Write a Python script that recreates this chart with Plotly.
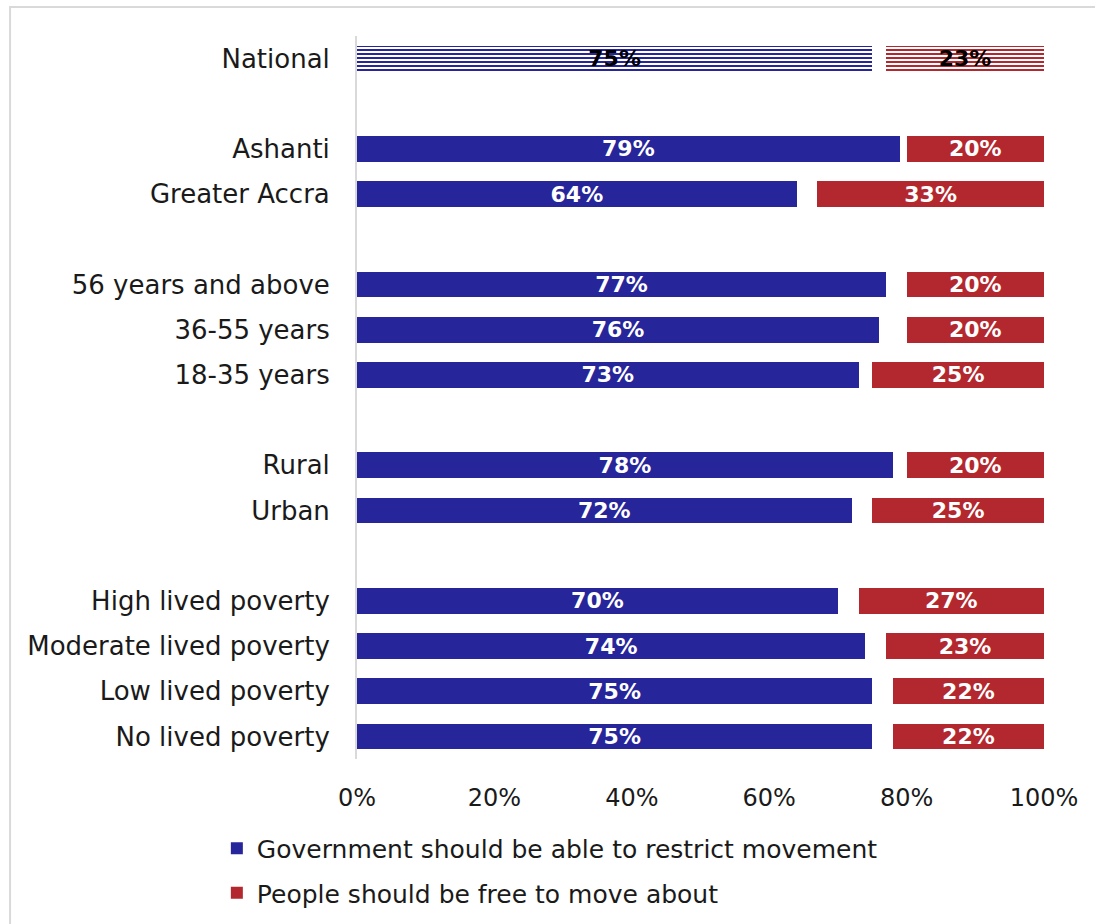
import plotly.graph_objects as go

# Survey groups, top to bottom; blank entries leave gaps between blocks
groups = ["National", "", "Ashanti", "Greater Accra", "",
          "56 years and above", "36-55 years", "18-35 years", "",
          "Rural", "Urban", "",
          "High lived poverty", "Moderate lived poverty",
          "Low lived poverty", "No lived poverty"]

restrict = [75, None, 79, 64, None, 77, 76, 73, None, 78, 72, None, 70, 74, 75, 75]
dont_know = [2, None, 1, 3, None, 3, 4, 2, None, 2, 3, None, 3, 3, 3, 3]
free_move = [23, None, 20, 33, None, 20, 20, 25, None, 20, 25, None, 27, 23, 22, 22]

series_names = ["Government should be able to restrict movement",
                "People should be free to move about"]

x_ticks = [0, 20, 40, 60, 80, 100]
x_tick_labels = ["0%", "20%", "40%", "60%", "80%", "100%"]

BLUE = "#27259A"
RED = "#B3282E"
FONT = "DejaVu Sans"

slots = list(range(len(groups)))
is_national = [g == "National" for g in groups]


def labels(vals):
    return [f"{v}%" if v is not None else "" for v in vals]


def label_colors():
    return ["black" if n else "white" for n in is_national]


def pattern_shapes():
    return ["-" if n else "" for n in is_national]


def data_bar(vals, color, name):
    return go.Bar(
        y=slots, x=vals, orientation="h", name=name, showlegend=False,
        marker=dict(color=color, line=dict(width=0),
                    pattern=dict(shape=pattern_shapes(), fgcolor=color,
                                 bgcolor="white", size=4, solidity=0.5,
                                 fgopacity=1, fillmode="replace")),
        text=labels(vals), textposition="inside", insidetextanchor="middle",
        textangle=0, constraintext="none",
        textfont=dict(family=FONT, size=22, color=label_colors(), weight="bold"),
        width=0.57, hoverinfo="skip",
    )


fig = go.Figure()
fig.add_trace(data_bar(restrict, BLUE, series_names[0]))
fig.add_trace(go.Bar(
    y=slots, x=dont_know, orientation="h", name="Don't know",
    marker=dict(color="rgba(0,0,0,0)", line=dict(width=0)),
    showlegend=False, width=0.57, hoverinfo="skip",
))
fig.add_trace(data_bar(free_move, RED, series_names[1]))

# Solid swatches for the legend
for name, color in zip(series_names, [BLUE, RED]):
    fig.add_trace(go.Bar(
        y=[None], x=[None], orientation="h", name=name, legendgroup=name,
        marker=dict(color=color, line=dict(width=0)), showlegend=True,
    ))

fig.update_layout(
    width=1095, height=924,
    margin=dict(l=357, r=51, t=36, b=165, autoexpand=False),
    barmode="stack",
    plot_bgcolor="white", paper_bgcolor="white",
    font=dict(family=FONT, size=25, color="#1a1a1a"),
    showlegend=True,
    legend=dict(orientation="v", x=-0.204, xanchor="left",
                y=-0.092, yanchor="top", traceorder="grouped",
                font=dict(family=FONT, size=25, color="#1a1a1a"),
                tracegroupgap=9, itemwidth=30, bgcolor="rgba(0,0,0,0)"),
    xaxis=dict(range=[0, 100], tickvals=x_ticks, ticktext=x_tick_labels,
               showgrid=False, zeroline=False, showline=False,
               ticks="", ticklabelstandoff=22, automargin=False,
               tickfont=dict(family=FONT, size=24, color="#1a1a1a"),
               fixedrange=True),
    yaxis=dict(range=[len(groups) - 0.5, -0.5], tickvals=slots, ticktext=groups,
               showgrid=False, zeroline=False, showline=True,
               linecolor="#d9d9d9", linewidth=2, ticks="",
               ticklabelstandoff=20, automargin=False,
               tickfont=dict(family=FONT, size=26, color="#1a1a1a"),
               fixedrange=True),
    shapes=[dict(type="rect", xref="paper", yref="paper",
                 x0=-0.505, x1=1.2, y0=-0.3, y1=1.04,
                 line=dict(color="#d9d9d9", width=2), fillcolor="rgba(0,0,0,0)",
                 layer="below")],
)

fig.write_html("out.html")
